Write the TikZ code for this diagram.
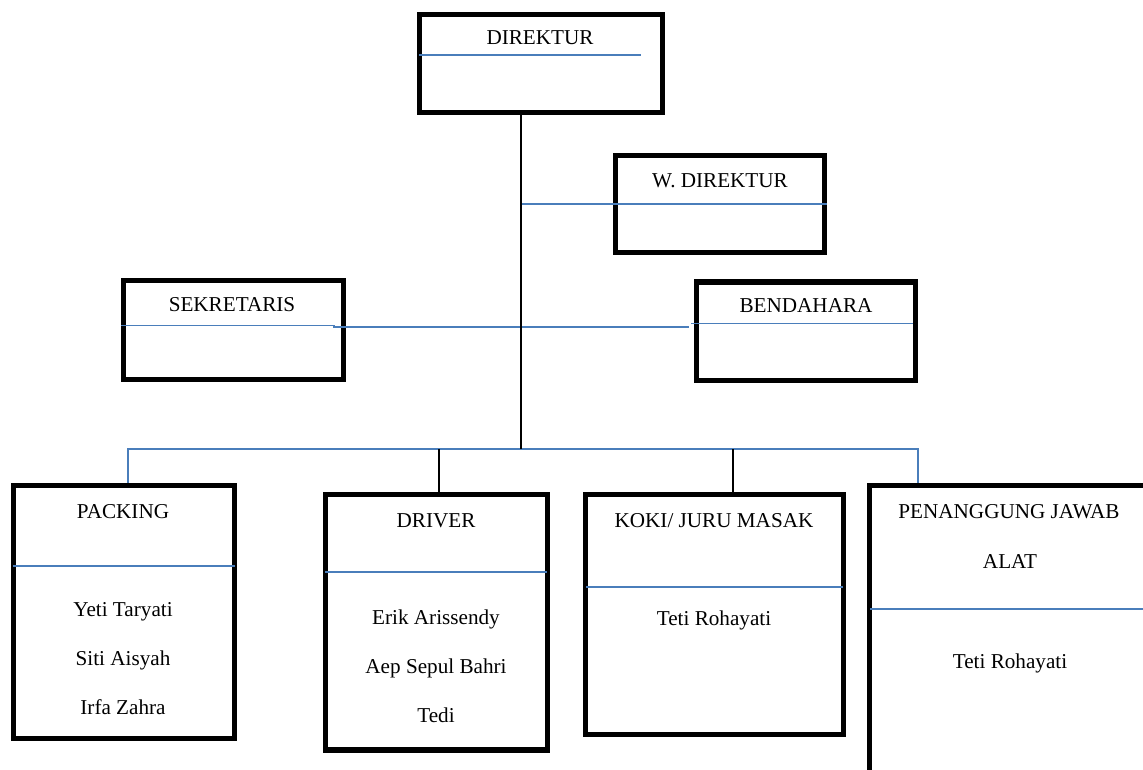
\documentclass[tikz,border=0pt]{standalone}
\usepackage{fontspec}
\setmainfont{Liberation Serif}
\usetikzlibrary{fit}
\definecolor{wblue}{RGB}{74,126,187}
\begin{document}
\begin{tikzpicture}[x=0.6pt,y=-0.6pt,
  box/.style={draw=black,line width=3.3pt,inner sep=0pt,rectangle},
  lbl/.style={anchor=base,inner sep=0pt,font=\fontsize{12.7}{15}\selectfont},
  conn/.style={draw=black,line width=1.1pt},
  bconn/.style={draw=wblue,line width=1.1pt},
  divider/.style={draw=wblue,line width=1.1pt}]
\useasboundingbox (0,0) rectangle (1143,769);
\clip (0,0) rectangle (1143,769);

% boxes
\node[box, fit={(419.5,14.5) (662.5,112.5)}] (dir) {};
\node[box, fit={(615.5,155.5) (824.5,252.5)}] (wdir) {};
\node[box, fit={(123.5,280.5) (343.5,379.5)}] (sek) {};
\node[box, fit={(696.5,282) (915.5,380.5)}] (ben) {};
\node[box, fit={(13.5,485.5) (234.5,738.5)}] (pack) {};
\node[box, fit={(325.5,494.5) (547.5,750)}] (drv) {};
\node[box, fit={(585.5,494.5) (843.5,734.5)}] (koki) {};
\node[box, fit={(869.5,485.5) (1180,800)}] (pj) {};

% dividers inside boxes
\draw[divider] (419,55) -- (641,55);
\draw[divider] (121,325.5) -- (335,325.5);
\draw[divider] (691,323.5) -- (913,323.5);
\draw[divider] (13,566) -- (235,566);
\draw[divider] (325,572) -- (547,572);
\draw[divider] (586,587) -- (843,587);
\draw[divider] (870,609) -- (1143,609);

% labels
\node[lbl] (tdir) at (540,45) {DIREKTUR};
\node[lbl] (twdir) at (720,187) {W. DIREKTUR};
\node[lbl] (tsek) at (232,311) {SEKRETARIS};
\node[lbl] (tben) at (806,312.5) {BENDAHARA};
\node[lbl] (tpack) at (123,518) {PACKING};
\node[lbl] (pn1) at (123,616) {Yeti Taryati};
\node[lbl] (pn2) at (123,665) {Siti Aisyah};
\node[lbl] (pn3) at (123,714) {Irfa Zahra};
\node[lbl] (tdrv) at (436,527) {DRIVER};
\node[lbl] (dn1) at (436,624) {Erik Arissendy};
\node[lbl] (dn2) at (436,673) {Aep Sepul Bahri};
\node[lbl] (dn3) at (436,722) {Tedi};
\node[lbl] (tkoki) at (714,527) {KOKI/ JURU MASAK};
\node[lbl] (kn1) at (714,625) {Teti Rohayati};
\node[lbl] (tpj1) at (1009,518) {PENANGGUNG JAWAB};
\node[lbl] (tpj2) at (1010,568.5) {ALAT};
\node[lbl] (jn1) at (1010,668) {Teti Rohayati};

% connector coordinates
\coordinate (busT) at (521,449);
\coordinate (busL) at (128,449);
\coordinate (busR) at (918,449);
\coordinate (busD) at (439,449);
\coordinate (busK) at (733,449);
\coordinate (tw) at (521,204);
\coordinate (sekR) at (333,327);
\coordinate (benL) at (689,327);

% blue connectors
\draw[bconn] (tw) -- (tw -| wdir.east);
\draw[bconn] (sekR) -- (benL);
\draw[bconn] (busL |- pack.north) -- (busL) -- (busR) -- (busR |- pj.north);

% black connectors
\draw[conn] (busT |- dir.south) -- (busT);
\draw[conn] (busD) -- (busD |- drv.north);
\draw[conn] (busK) -- (busK |- koki.north);
\end{tikzpicture}
\end{document}
